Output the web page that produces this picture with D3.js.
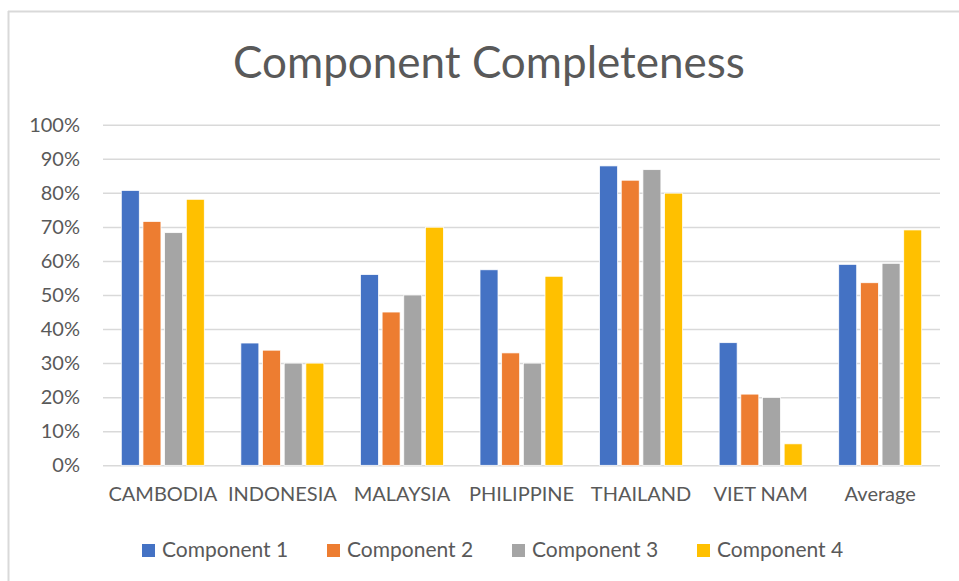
<!DOCTYPE html>
<html>
<head>
<meta charset="utf-8">
<script src="https://cdn.jsdelivr.net/npm/d3@7"></script>
<style>
  body { margin: 0; background: #fff; }
  text { font-family: Lato, "Open Sans", sans-serif; fill: #595959; }
</style>
</head>
<body>
<script>
// data
var countries = ["CAMBODIA", "INDONESIA", "MALAYSIA", "PHILIPPINE", "THAILAND", "VIET NAM", "Average"];
var seriesNames = ["Component 1", "Component 2", "Component 3", "Component 4"];
var comp1 = [0.807, 0.359, 0.560, 0.574, 0.879, 0.360, 0.590];
var comp2 = [0.716, 0.338, 0.450, 0.330, 0.837, 0.209, 0.536];
var comp3 = [0.683, 0.300, 0.500, 0.300, 0.868, 0.199, 0.593];
var comp4 = [0.781, 0.300, 0.699, 0.555, 0.799, 0.063, 0.691];
var yTicks = [0, 0.1, 0.2, 0.3, 0.4, 0.5, 0.6, 0.7, 0.8, 0.9, 1];
var colors = ["#4472C4", "#ED7D31", "#A5A5A5", "#FFC000"];

var allSeries = [comp1, comp2, comp3, comp4];
var W = 959, H = 581;
// plot box (note: "top" is taken by window.top, so use other names)
var plotL = 103, plotR = 940, plotT = 124.7, plotB = 465.3;

var svg = d3.select("body").append("svg")
  .attr("width", W).attr("height", H);

svg.append("rect").attr("width", W).attr("height", H).attr("fill", "#fff");

// chart area border (only top and left show)
svg.append("line").attr("x1", 8).attr("x2", W).attr("y1", 11.5).attr("y2", 11.5)
  .attr("stroke", "#d9d9d9").attr("stroke-width", 2);
svg.append("line").attr("x1", 8.5).attr("x2", 8.5).attr("y1", 11).attr("y2", H)
  .attr("stroke", "#d9d9d9").attr("stroke-width", 2);

svg.append("text")
  .attr("x", 489).attr("y", 78)
  .attr("text-anchor", "middle")
  .style("font-size", "44px")
  .text("Component Completeness");

var y = d3.scaleLinear().domain([0, 1]).range([plotB, plotT]);
var x0 = d3.scaleBand().domain(countries).range([plotL, plotR])
  .paddingInner(0.306).paddingOuter(0.153);
var x1 = d3.scaleBand().domain(d3.range(4)).range([0, x0.bandwidth()])
  .paddingInner(0.17);

var yAxis = svg.append("g")
  .attr("transform", "translate(" + plotL + ",0)")
  .call(d3.axisLeft(y).tickValues(yTicks).tickFormat(d3.format(".0%"))
    .tickSizeInner(-(plotR - plotL)).tickSizeOuter(0).tickPadding(23));
yAxis.select(".domain").remove();
yAxis.selectAll("line").attr("stroke", "#d9d9d9").attr("stroke-width", 1.5);
yAxis.selectAll("text").style("font-size", "20px").attr("fill", "#595959")
  .attr("font-family", null);

var xAxis = svg.append("g")
  .attr("transform", "translate(0," + plotB + ")")
  .call(d3.axisBottom(x0).tickSize(0).tickPadding(22));
xAxis.select(".domain").remove();
xAxis.selectAll("text").style("font-size", "20px").attr("fill", "#595959")
  .attr("font-family", null);

var groups = svg.selectAll("g.grp")
  .data(countries)
  .enter().append("g")
  .attr("class", "grp")
  .attr("transform", function(d) { return "translate(" + x0(d) + ",0)"; });

groups.selectAll("rect")
  .data(function(d, i) { return allSeries.map(function(s, k) { return {k: k, v: s[i]}; }); })
  .enter().append("rect")
  .attr("x", function(d) { return x1(d.k); })
  .attr("y", function(d) { return y(d.v); })
  .attr("width", x1.bandwidth())
  .attr("height", function(d) { return plotB - y(d.v); })
  .attr("fill", function(d) { return colors[d.k]; })
  .attr("stroke", "#fff").attr("stroke-width", 0.75);

// legend
var lx = d3.scalePoint().domain(seriesNames).range([142, 697]);
var leg = svg.selectAll("g.leg")
  .data(seriesNames)
  .enter().append("g")
  .attr("class", "leg")
  .attr("transform", function(d) { return "translate(" + lx(d) + ",544)"; });
leg.append("rect").attr("width", 13).attr("height", 13)
  .attr("fill", function(d, i) { return colors[i]; });
leg.append("text").attr("x", 20).attr("y", 13)
  .style("font-size", "21px")
  .text(function(d) { return d; });
</script>
</body>
</html>
